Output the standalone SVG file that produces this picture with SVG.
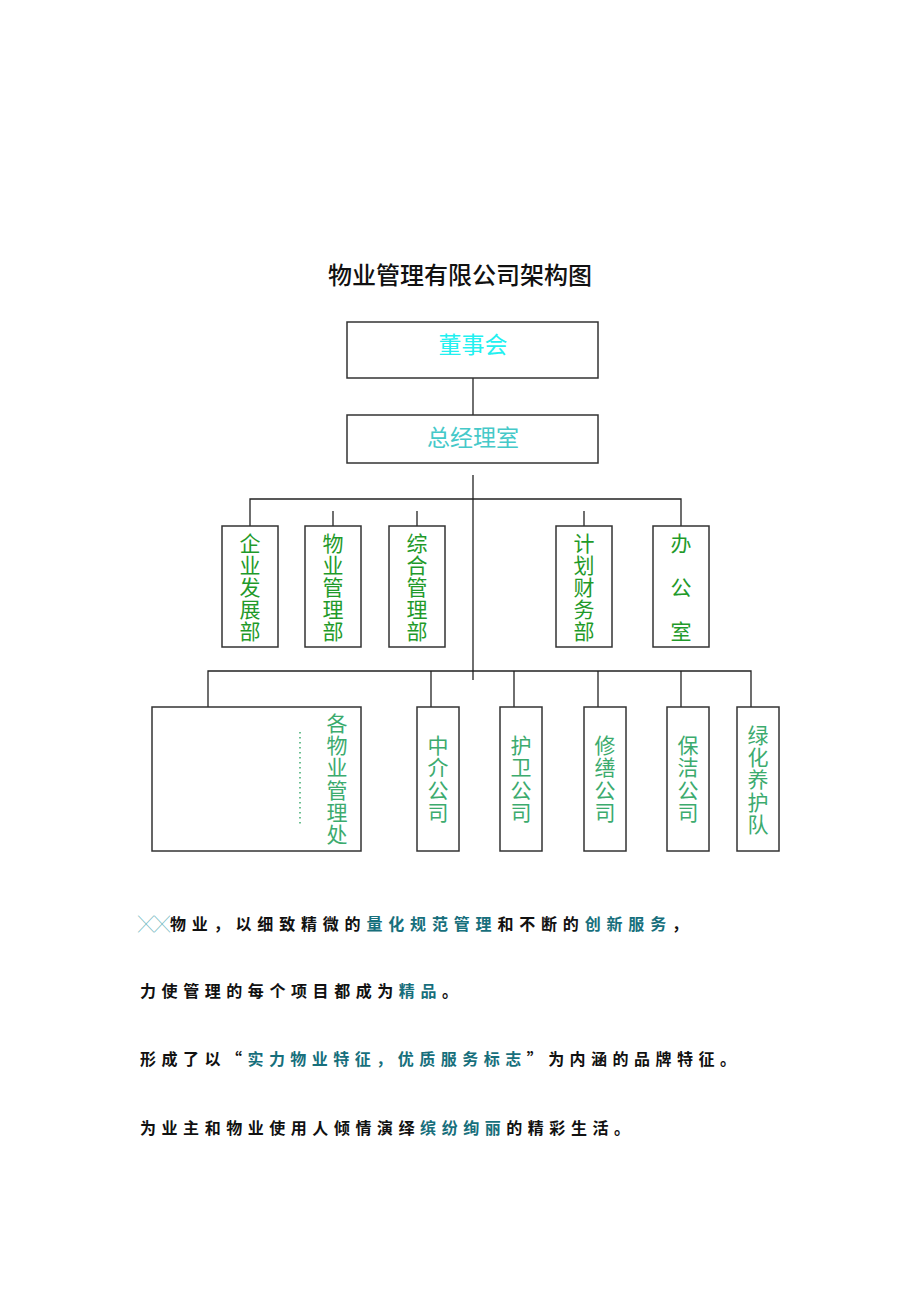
<svg xmlns="http://www.w3.org/2000/svg" width="920" height="1302" viewBox="0 0 920 1302">
<style>
.box{fill:#fff;stroke:#333;stroke-width:1.5}
.ln{stroke:#222;stroke-width:1.3;fill:none}
.cjk{font-family:"Noto Sans CJK SC","Liberation Sans",sans-serif}
.v{font-size:21px;writing-mode:vertical-rl;letter-spacing:1px}
.v1{fill:#1f9a2a}
.v2{fill:#3cab6e}
.body{font-size:16px;font-weight:700;fill:#111}
.hl{fill:#176f7c}
</style>
<rect width="920" height="1302" fill="#fff"/>
<text x="460" y="284" class="cjk" font-size="24" font-weight="500" text-anchor="middle" fill="#111">物业管理有限公司架构图</text>

<g id="connectors">
<line class="ln" x1="473" y1="378" x2="473" y2="415"/>
<line class="ln" x1="473" y1="475" x2="473" y2="680"/>
<polyline class="ln" points="250,534 250,499 681,499 681,535"/>
<line class="ln" x1="333" y1="511" x2="333" y2="548"/>
<line class="ln" x1="417" y1="511" x2="417" y2="548"/>
<line class="ln" x1="584" y1="511" x2="584" y2="548"/>
<polyline class="ln" points="208,707 208,671 751,671 751,707"/>
<line class="ln" x1="431" y1="671" x2="431" y2="707"/>
<line class="ln" x1="514" y1="671" x2="514" y2="707"/>
<line class="ln" x1="598" y1="671" x2="598" y2="707"/>
<line class="ln" x1="681" y1="671" x2="681" y2="707"/>
</g>

<g id="board">
<rect class="box" x="347" y="322" width="251" height="56"/>
<text x="473" y="353" class="cjk" font-size="23" text-anchor="middle" fill="#22f0f0">董事会</text>
</g>
<g id="gm">
<rect class="box" x="347" y="415" width="251" height="48"/>
<text x="473" y="446" class="cjk" font-size="23" text-anchor="middle" fill="#45c9c9">总经理室</text>
</g>

<g id="dept1">
<rect class="box" x="222" y="526" width="56" height="121"/>
<text x="250" y="532.5" class="cjk v v1">企业发展部</text>
</g>
<g id="dept2">
<rect class="box" x="305" y="526" width="56" height="121"/>
<text x="333" y="532.5" class="cjk v v1">物业管理部</text>
</g>
<g id="dept3">
<rect class="box" x="389" y="526" width="56" height="121"/>
<text x="417" y="532.5" class="cjk v v1">综合管理部</text>
</g>
<g id="dept4">
<rect class="box" x="556" y="526" width="56" height="121"/>
<text x="584" y="532.5" class="cjk v v1">计划财务部</text>
</g>
<g id="dept5">
<rect class="box" x="653" y="526" width="56" height="121"/>
<text x="681" y="532.5" class="cjk v v1" style="letter-spacing:23px">办公室</text>
</g>

<g id="sub1">
<rect class="box" x="152" y="707" width="209" height="144"/>
<line x1="300" y1="732" x2="300" y2="826" stroke="#3cab6e" stroke-width="1.5" stroke-dasharray="1.5,3.5"/>
<text x="337" y="712.5" class="cjk v v2" style="letter-spacing:1.2px">各物业管理处</text>
</g>
<g id="sub2">
<rect class="box" x="417" y="707" width="42" height="144"/>
<text x="438" y="734.5" class="cjk v v2" style="letter-spacing:1.3px">中介公司</text>
</g>
<g id="sub3">
<rect class="box" x="500" y="707" width="42" height="144"/>
<text x="521" y="734.5" class="cjk v v2" style="letter-spacing:1.3px">护卫公司</text>
</g>
<g id="sub4">
<rect class="box" x="584" y="707" width="42" height="144"/>
<text x="605" y="734.5" class="cjk v v2" style="letter-spacing:1.3px">修缮公司</text>
</g>
<g id="sub5">
<rect class="box" x="667" y="707" width="42" height="144"/>
<text x="688" y="734.5" class="cjk v v2" style="letter-spacing:1.3px">保洁公司</text>
</g>
<g id="sub6">
<rect class="box" x="737" y="707" width="42" height="144"/>
<text x="758" y="724.5" class="cjk v v2" style="letter-spacing:1.2px">绿化养护队</text>
</g>

<g id="slogan">
<text x="138" y="930" class="cjk" font-size="16" fill="#6fb8c0">╳╳</text>
<text x="170" y="930" class="cjk body" textLength="518" lengthAdjust="spacing">物业，以细致精微的<tspan class="hl">量化规范管理</tspan>和不断的<tspan class="hl">创新服务</tspan>，</text>
<text x="140" y="997" class="cjk body" textLength="318" lengthAdjust="spacing">力使管理的每个项目都成为<tspan class="hl">精品</tspan>。</text>
<text x="140" y="1065" class="cjk body" textLength="596" lengthAdjust="spacing">形成了以“<tspan class="hl">实力物业特征，优质服务标志</tspan>”为内涵的品牌特征。</text>
<text x="140" y="1134" class="cjk body" textLength="490" lengthAdjust="spacing">为业主和物业使用人倾情演绎<tspan class="hl">缤纷绚丽</tspan>的精彩生活。</text>
</g>
</svg>
